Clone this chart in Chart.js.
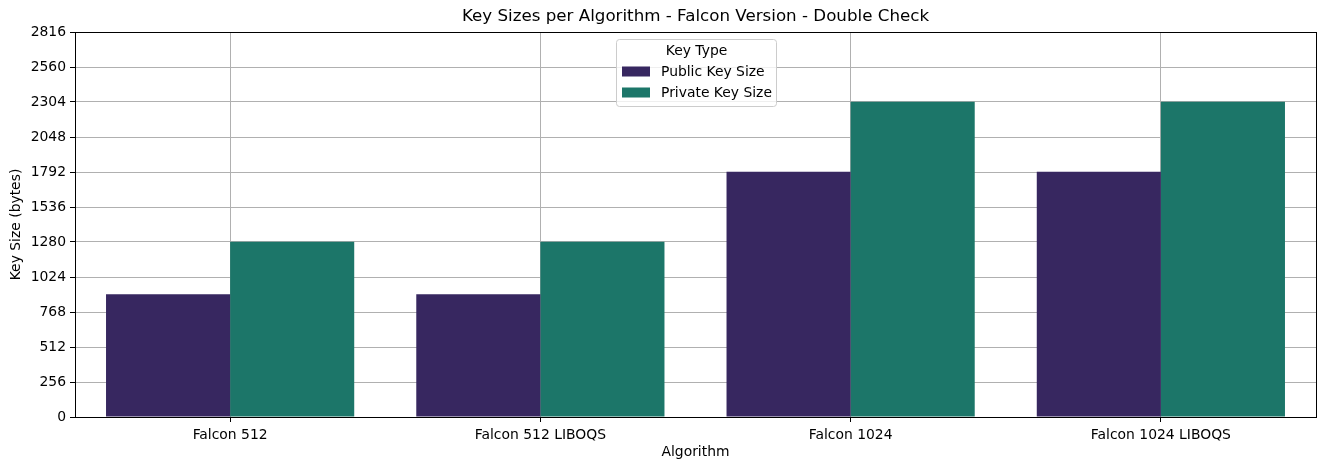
<!DOCTYPE html>
<html><head><meta charset="utf-8">
<script src="https://cdn.jsdelivr.net/npm/chart.js@4"></script>
<style>html,body{margin:0;padding:0;background:#fff;overflow:hidden}</style>
</head><body>
<canvas id="c" width="1324" height="470" style="width:1324px;height:470px;display:block"></canvas>
<script>
const categories = ['Falcon 512', 'Falcon 512 LIBOQS', 'Falcon 1024', 'Falcon 1024 LIBOQS'];
const seriesNames = ['Public Key Size', 'Private Key Size'];
const publicKeySizes = [897, 897, 1793, 1793];
const privateKeySizes = [1281, 1281, 2305, 2305];
const yTicks = [0, 256, 512, 768, 1024, 1280, 1536, 1792, 2048, 2304, 2560, 2816];
const seriesColors = ['#372760', '#1c7669'];
const chartTitle = 'Key Sizes per Algorithm - Falcon Version - Double Check';

const FONT = 'DejaVu Sans';
const TXT = '#000000';

const framePlugin = {
  id: 'frame',
  afterDraw(chart) {
    const a = chart.chartArea, ctx = chart.ctx;
    ctx.save();
    ctx.strokeStyle = '#000';
    ctx.lineWidth = 1;
    ctx.strokeRect(Math.round(a.left) + 0.5, Math.round(a.top) + 0.5,
      Math.round(a.right) - Math.round(a.left), Math.round(a.bottom) - Math.round(a.top));
    ctx.restore();
  }
};

const axesTitlePlugin = {
  id: 'axesTitle',
  afterDraw(chart) {
    const a = chart.chartArea, ctx = chart.ctx;
    ctx.save();
    ctx.font = '16.7px "' + FONT + '"';
    ctx.fillStyle = TXT;
    ctx.textAlign = 'center';
    ctx.textBaseline = 'middle';
    ctx.fillText(chart.options.plugins.axesTitle.text, (a.left + a.right) / 2, 17);
    ctx.restore();
  }
};

const legendPlugin = {
  id: 'boxLegend',
  afterDraw(chart) {
    const a = chart.chartArea, ctx = chart.ctx;
    const w = 160, h = 67;
    const cx = (a.left + a.right) / 2;
    const x = Math.round(cx - w / 2) + 0.5, y = Math.round(a.top + 7) + 0.5;
    ctx.save();
    ctx.fillStyle = 'rgba(255,255,255,0.8)';
    ctx.strokeStyle = '#cccccc';
    ctx.lineWidth = 1;
    ctx.beginPath();
    ctx.roundRect(x, y, w, h, 3);
    ctx.fill();
    ctx.stroke();
    ctx.font = '13.9px "' + FONT + '"';
    ctx.fillStyle = TXT;
    ctx.textBaseline = 'middle';
    ctx.textAlign = 'center';
    ctx.fillText('Key Type', x + w / 2, y + 12);
    ctx.textAlign = 'left';
    chart.data.datasets.forEach((ds, i) => {
      const ry = y + 27 + i * 21;
      ctx.fillStyle = ds.backgroundColor;
      ctx.fillRect(x + 5.5, ry, 28, 10);
      ctx.fillStyle = TXT;
      ctx.fillText(ds.label, x + 44.5, ry + 5.5);
    });
    ctx.restore();
  }
};

new Chart(document.getElementById('c'), {
  type: 'bar',
  data: {
    labels: categories,
    datasets: [
      { label: seriesNames[0], data: publicKeySizes, backgroundColor: seriesColors[0], borderWidth: 0 },
      { label: seriesNames[1], data: privateKeySizes, backgroundColor: seriesColors[1], borderWidth: 0 }
    ]
  },
  options: {
    responsive: false,
    animation: false,
    devicePixelRatio: 1,
    layout: { padding: { left: 8, right: 8, top: 32, bottom: 9 } },
    datasets: { bar: { categoryPercentage: 0.8, barPercentage: 1.0 } },
    plugins: {
      legend: { display: false },
      tooltip: { enabled: false },
      title: { display: false },
      axesTitle: { text: chartTitle }
    },
    scales: {
      x: {
        z: 1,
        offset: true,
        grid: { display: true, offset: false, color: '#b0b0b0', lineWidth: 1, tickColor: '#000', tickLength: 5, drawOnChartArea: true },
        border: { display: true, color: '#000', width: 1 },
        ticks: { color: TXT, font: { family: FONT, size: 13.9 }, padding: 5, maxRotation: 0, autoSkip: false },
        title: { display: true, text: 'Algorithm', color: TXT, font: { family: FONT, size: 13.9 }, padding: 0 },
        afterFit(scale) { scale.height = 44; }
      },
      y: {
        z: 1,
        min: 0,
        max: 2816,
        afterBuildTicks(scale) { scale.ticks = yTicks.map(v => ({ value: v })); },
        grid: { color: '#b0b0b0', lineWidth: 1, tickColor: '#000', tickLength: 5 },
        border: { display: true, color: '#000', width: 1 },
        ticks: { color: TXT, font: { family: FONT, size: 13.9 }, padding: 4, callback: v => String(v) },
        title: { display: true, text: 'Key Size (bytes)', color: TXT, font: { family: FONT, size: 13.9 }, padding: 0 },
        afterFit(scale) { scale.width = 67; }
      }
    }
  },
  plugins: [framePlugin, axesTitlePlugin, legendPlugin]
});
</script>
</body></html>
